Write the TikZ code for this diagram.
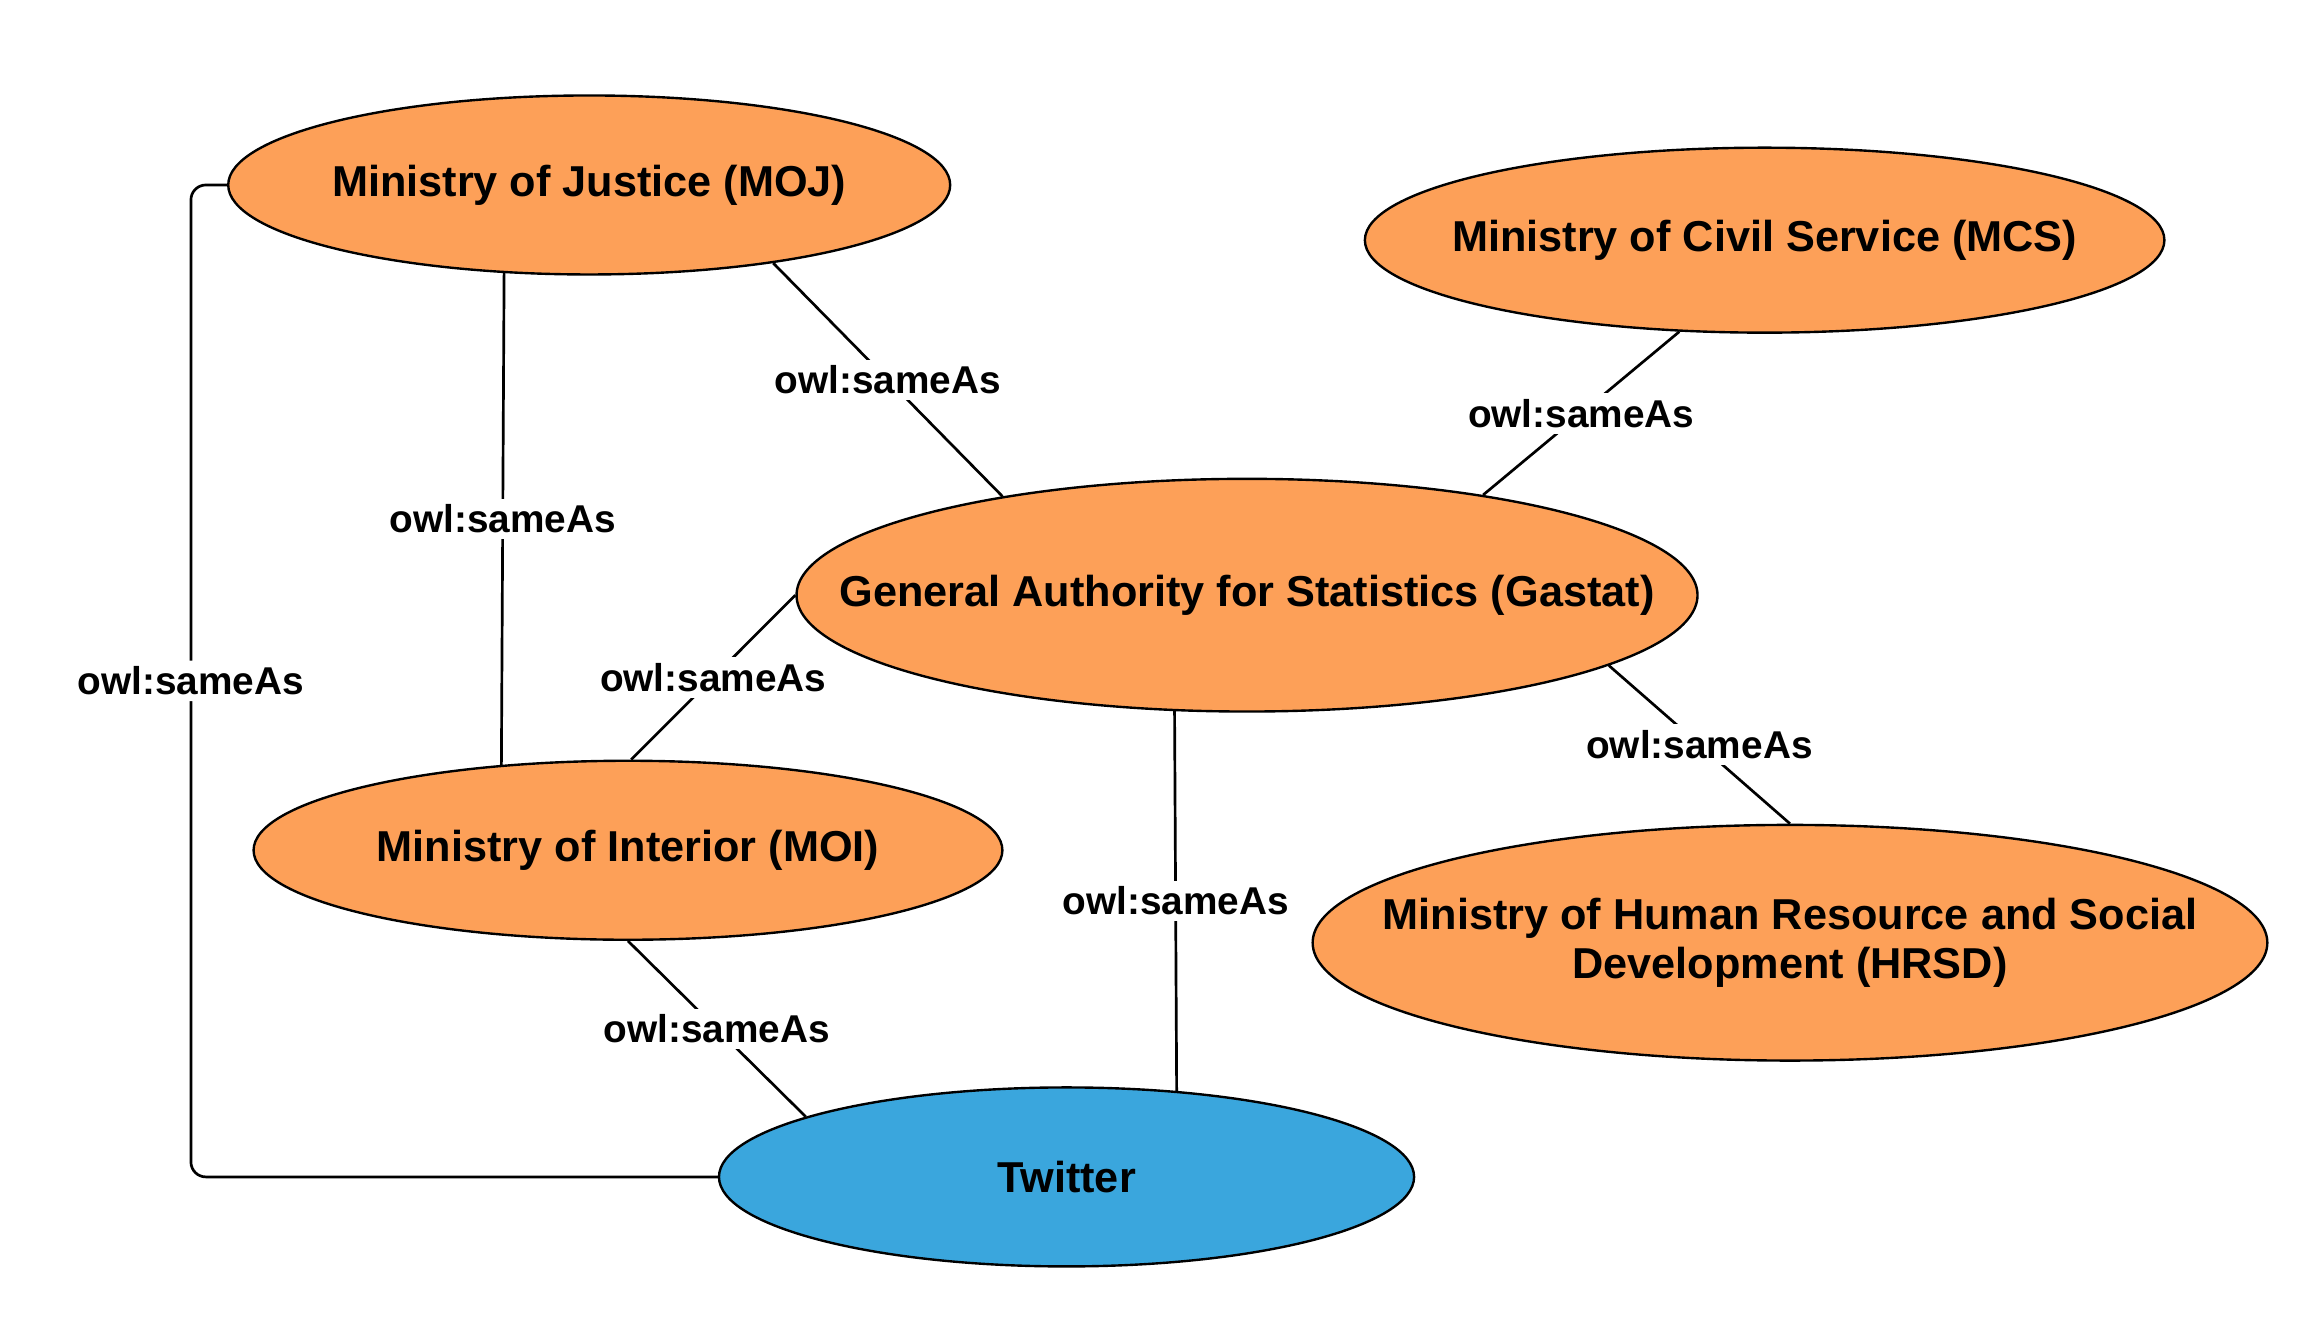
\documentclass[tikz,border=0pt]{standalone}
\usepackage{fontspec}
\setmainfont{Liberation Sans}
\usetikzlibrary{shapes.geometric}
\definecolor{orgfill}{RGB}{253,160,88}
\definecolor{twfill}{RGB}{58,166,221}
\newcommand{\zbox}[1]{\makebox[0pt]{#1}}
\tikzset{
  org/.style={ellipse, draw=black, line width=0.8pt, fill=orgfill, inner sep=0pt,
    font=\fontsize{14.5}{17}\selectfont\bfseries, align=center},
  tw/.style={org, fill=twfill},
  link/.style={line width=0.9pt},
  rel/.style={midway, fill=white, inner sep=2pt, font=\fontsize{13}{15}\selectfont\bfseries}
}
\begin{document}
\begin{tikzpicture}[x=0.5pt,y=-0.5pt]
\useasboundingbox (0,0) rectangle (1558,900);

% entities
\node[org, minimum width=242pt, minimum height=60pt] (moj) at (395,124) {\zbox{Ministry of Justice (MOJ)}};
\node[org, minimum width=268pt, minimum height=62pt] (mcs) at (1183,161) {\zbox{Ministry of Civil Service (MCS)}};
\node[org, minimum width=302pt, minimum height=78pt] (gas) at (836,399) {\zbox{General Authority for Statistics (Gastat)}};
\node[org, minimum width=251pt, minimum height=60pt] (moi) at (421,570) {\zbox{Ministry of Interior (MOI)}};
\node[org, minimum width=320pt, minimum height=79pt] (hrsd) at (1200,632) {\zbox{\shortstack{Ministry of Human Resource and Social\\Development (HRSD)}}};
\node[tw, minimum width=233pt, minimum height=60pt] (tw) at (715,789) {\zbox{Twitter}};

% owl:sameAs links
\draw[link] (moj.-23) -- node[rel] {owl:sameAs} (gas.158);
\draw[link] (mcs.-133) -- node[rel] {owl:sameAs} (gas.23);
\draw[link] (moj.-134) -- node[rel] {owl:sameAs} (moi.146);
\draw[link] (gas.180) -- node[rel] {owl:sameAs} (moi.88);
\draw[link] (gas.-11) -- node[rel] {owl:sameAs} (hrsd.north);
\draw[link] (gas.-122) -- node[rel] {owl:sameAs} (tw.38);
\draw[link] (moi.south) -- node[rel] {owl:sameAs} (tw.167);
\draw[link, rounded corners=5pt] (moj.west) -- (128,124) -- node[rel] {owl:sameAs} (128,789) -- (tw.west);
\end{tikzpicture}
\end{document}
